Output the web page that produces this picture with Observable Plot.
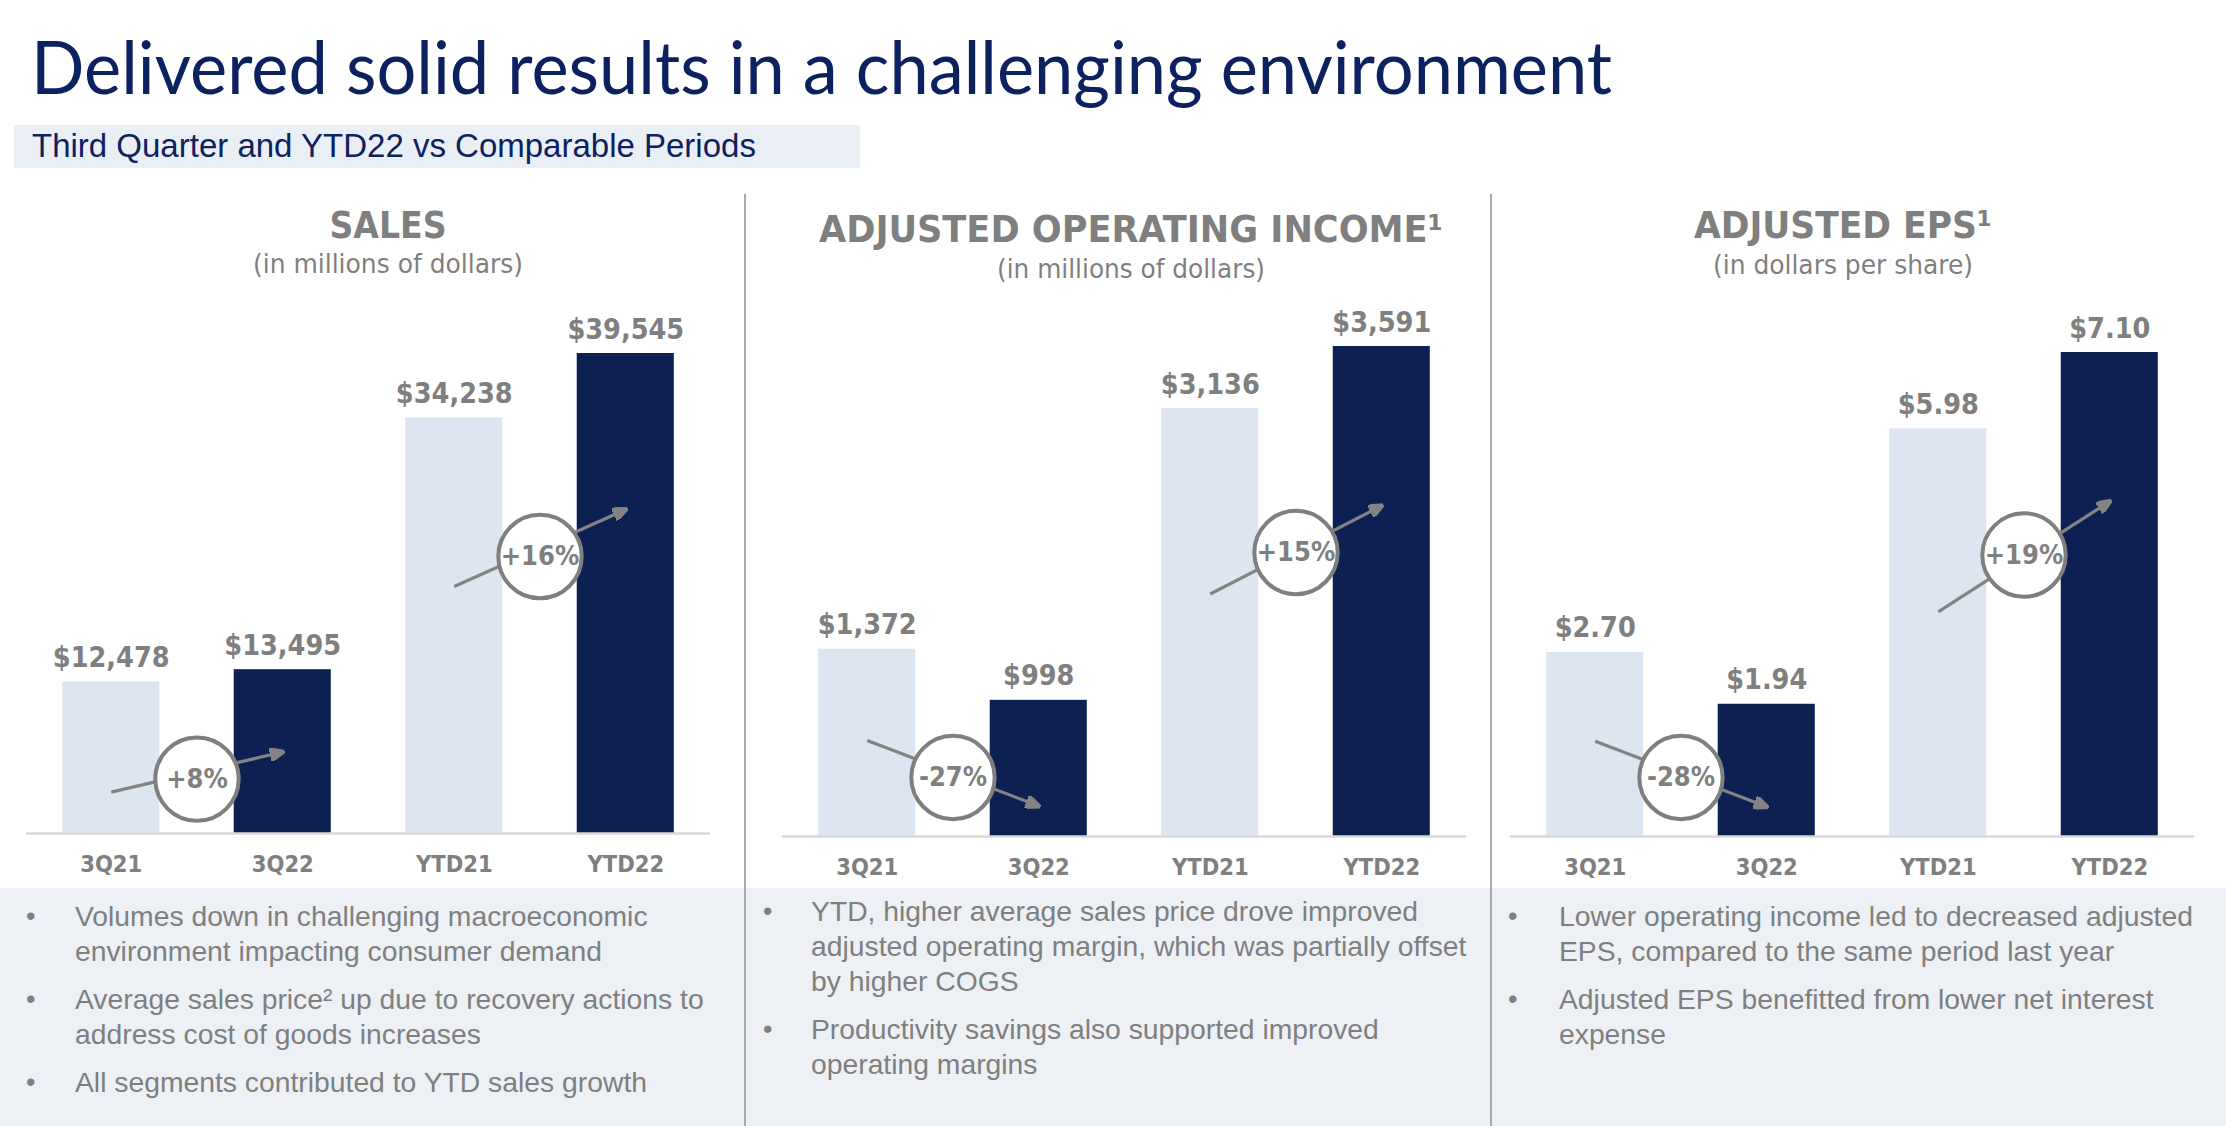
<!DOCTYPE html>
<html><head><meta charset="utf-8">
<script src="https://cdn.jsdelivr.net/npm/d3@7"></script>
<script src="https://cdn.jsdelivr.net/npm/@observablehq/plot@0.6"></script>
<style>
html,body{margin:0;padding:0;background:#fff;}
#page{position:relative;width:2226px;height:1126px;overflow:hidden;background:#fff;}
#bg{position:absolute;left:0;top:0;}
.chart{position:absolute;top:290px;}
</style></head>
<body><div id="page"><svg id="bg" width="2226" height="1126" xmlns="http://www.w3.org/2000/svg"></svg></div>
<script>
// ---------------- data ----------------
const categories = ["3Q21", "3Q22", "YTD21", "YTD22"];
const periodKind = ["prior", "current", "prior", "current"];
const salesValues = [12478, 13495, 34238, 39545];
const opIncomeValues = [1372, 998, 3136, 3591];
const epsValues = [2.70, 1.94, 5.98, 7.10];

const pageTitle = "Delivered solid results in a challenging environment";
const pageSubtitle = "Third Quarter and YTD22 vs Comparable Periods";
const panelTitles = ["SALES", "ADJUSTED OPERATING INCOME\u00B9", "ADJUSTED EPS\u00B9"];
const panelUnits = ["(in millions of dollars)", "(in millions of dollars)", "(in dollars per share)"];

// comparison badges: arrow from -> to (heights in data units at bar centres), badge height
const salesChanges = [
  {from: "3Q21", to: "3Q22", y1: 3410, y2: 6714, yc: 4480},
  {from: "YTD21", to: "YTD22", y1: 20356, y2: 26691, yc: 22820}
];
const opIncomeChanges = [
  {from: "3Q21", to: "3Q22", y1: 704, y2: 223, yc: 432},
  {from: "YTD21", to: "YTD22", y1: 1777, y2: 2424, yc: 2081}
];
const epsChanges = [
  {from: "3Q21", to: "3Q22", y1: 1.398, y2: 0.436, yc: 0.865},
  {from: "YTD21", to: "YTD22", y1: 3.295, y2: 4.916, yc: 4.129}
];

const salesBullets = [
  ["Volumes down in challenging macroeconomic", "environment impacting consumer demand"],
  ["Average sales price\u00B2 up due to recovery actions to", "address cost of goods increases"],
  ["All segments contributed to YTD sales growth"]
];
const opIncomeBullets = [
  ["YTD, higher average sales price drove improved", "adjusted operating margin, which was partially offset", "by higher COGS"],
  ["Productivity savings also supported improved", "operating margins"]
];
const epsBullets = [
  ["Lower operating income led to decreased adjusted", "EPS, compared to the same period last year"],
  ["Adjusted EPS benefitted from lower net interest", "expense"]
];

// ---------------- styles / layout ----------------
const NAVY = "#0d2160";
const GREY = "#7f7f7f";
const COND = "'DejaVu Sans Condensed', 'DejaVu Sans', sans-serif";
const ARIAL = "'Liberation Sans', Arial, sans-serif";
const PLOT_W = 684, PLOT_H = 596;
const PAD_IN = 0.434, PAD_OUT = 0.211;
const STEP = PLOT_W / (categories.length - PAD_IN + 2 * PAD_OUT);

const panels = [
  {values: salesValues, changes: salesChanges, fmt: d3.format("$,"), bullets: salesBullets,
   left: 26, mt: 63, mb: 53, cx: 388, titleY: 238, unitY: 273, titleW: 117, unitW: 270,
   bulletX: 26, textX: 75, firstBase: 926},
  {values: opIncomeValues, changes: opIncomeChanges, fmt: d3.format("$,"), bullets: opIncomeBullets,
   left: 782, mt: 56, mb: 50, cx: 1131, titleY: 242, unitY: 278, titleW: 624, unitW: 268,
   bulletX: 763, textX: 811, firstBase: 921},
  {values: epsValues, changes: epsChanges, fmt: d3.format("$.2f"), bullets: epsBullets,
   left: 1510, mt: 62, mb: 50, cx: 1843, titleY: 238, unitY: 274, titleW: 298, unitW: 260,
   bulletX: 1508, textX: 1559, firstBase: 926}
];

// ---------------- background svg ----------------
const bg = d3.select("#bg");
bg.append("rect").attr("x", 14).attr("y", 125).attr("width", 846).attr("height", 43).attr("fill", "#e9eff5");
bg.append("rect").attr("x", 0).attr("y", 888).attr("width", 2226).attr("height", 238).attr("fill", "#edf1f6");
[745, 1491].forEach(x => bg.append("line").attr("x1", x).attr("x2", x).attr("y1", 194).attr("y2", 1126)
  .attr("stroke", "#a9a9a9").attr("stroke-width", 2));
bg.append("text").attr("x", 31).attr("y", 94).attr("fill", NAVY)
  .attr("font-family", "Lato, 'Open Sans', sans-serif").attr("font-size", 73)
  .attr("textLength", 1581).attr("lengthAdjust", "spacingAndGlyphs").text(pageTitle);
bg.append("text").attr("x", 32).attr("y", 157).attr("fill", NAVY)
  .attr("font-family", ARIAL).attr("font-size", 33).text(pageSubtitle);

panels.forEach((p, k) => {
  bg.append("text").attr("x", p.cx).attr("y", p.titleY).attr("text-anchor", "middle")
    .attr("font-family", COND).attr("font-weight", "bold").attr("font-size", 37).attr("fill", GREY)
    .attr("textLength", p.titleW).attr("lengthAdjust", "spacingAndGlyphs").text(panelTitles[k]);
  bg.append("text").attr("x", p.cx).attr("y", p.unitY).attr("text-anchor", "middle")
    .attr("font-family", COND).attr("font-size", 27).attr("fill", GREY)
    .attr("textLength", p.unitW).attr("lengthAdjust", "spacingAndGlyphs").text(panelUnits[k]);
  let y = p.firstBase;
  p.bullets.forEach(lines => {
    bg.append("text").attr("x", p.bulletX).attr("y", y - 1).attr("font-family", ARIAL)
      .attr("font-size", 27).attr("fill", GREY).text("\u2022");
    lines.forEach(ln => {
      bg.append("text").attr("x", p.textX).attr("y", y).attr("font-family", ARIAL)
        .attr("font-size", 28.3).attr("fill", GREY).text(ln);
      y += 35;
    });
    y += 13;
  });
});

// ---------------- charts ----------------
function triangleMarker(color, context) {
  const doc = (context && context.document) || document;
  const m = doc.createElementNS("http://www.w3.org/2000/svg", "marker");
  m.setAttribute("viewBox", "0 0 15 13");
  m.setAttribute("markerUnits", "userSpaceOnUse");
  m.setAttribute("markerWidth", 15);
  m.setAttribute("markerHeight", 13);
  m.setAttribute("refX", 13);
  m.setAttribute("refY", 6.5);
  m.setAttribute("orient", "auto");
  const path = doc.createElementNS("http://www.w3.org/2000/svg", "path");
  path.setAttribute("d", "M0,0L15,6.5L0,13Z");
  path.setAttribute("fill", color);
  m.appendChild(path);
  return m;
}
const pctLabel = v => (v >= 0 ? "+" : "-") + Math.abs(v) + "%";

panels.forEach(p => {
  const data = categories.map((c, i) => ({cat: c, value: p.values[i], kind: periodKind[i]}));
  const valueOf = c => p.values[categories.indexOf(c)];
  const ann = p.changes.map(d => ({...d, pct: Math.round((valueOf(d.to) / valueOf(d.from) - 1) * 100)}));
  const chart = Plot.plot({
    width: PLOT_W, height: PLOT_H,
    marginTop: p.mt, marginBottom: p.mb, marginLeft: 0, marginRight: 0,
    style: {background: "transparent", overflow: "visible", fontFamily: COND},
    x: {domain: categories, paddingInner: PAD_IN, paddingOuter: PAD_OUT, round: false, label: null},
    y: {domain: [0, d3.max(p.values)], axis: null},
    color: {domain: ["prior", "current"], range: ["#dde5f0", "#0c2152"]},
    marks: [
      Plot.barY(data, {x: "cat", y: "value", fill: "kind"}),
      Plot.ruleY([0], {stroke: "#d9d9d9", strokeWidth: 2.5}),
      Plot.axisX({tickSize: 0, tickPadding: 22, fontSize: 23.5, fontWeight: "bold", color: GREY, label: null}),
      Plot.link(ann, {x1: "from", x2: "to", y1: "y1", y2: "y2", stroke: "#838383", strokeWidth: 3.2, markerEnd: triangleMarker}),
      Plot.dot(ann, {x: "from", y: "yc", dx: STEP / 2, r: 41.7, fill: "white", stroke: GREY, strokeWidth: 4}),
      Plot.text(ann, {x: "from", y: "yc", dx: STEP / 2, text: d => pctLabel(d.pct), fontSize: 27, fontWeight: "bold", fill: GREY}),
      Plot.text(data, {x: "cat", y: "value", text: d => p.fmt(d.value), dy: -15, lineAnchor: "bottom", fontSize: 28.5, fontWeight: "bold", fill: GREY})
    ]
  });
  chart.classList.add("chart");
  chart.style.left = p.left + "px";
  document.getElementById("page").appendChild(chart);
});
</script>
</body></html>
